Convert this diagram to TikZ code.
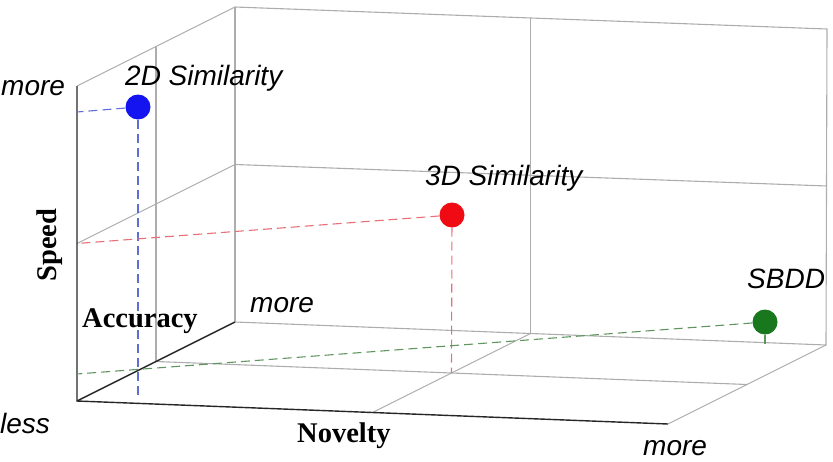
\documentclass[tikz,border=0pt]{standalone}
\usepackage{fontspec}
\setmainfont{Liberation Serif}
\setsansfont{Liberation Sans}
\definecolor{gblue}{RGB}{95,110,215}
\definecolor{gred}{RGB}{232,110,120}
\definecolor{ggreen}{RGB}{95,150,95}
\definecolor{dblue}{RGB}{20,20,240}
\definecolor{dred}{RGB}{240,10,20}
\definecolor{dgreen}{RGB}{25,120,30}
\begin{document}
\begin{tikzpicture}[x=1pt,y=-1pt,
  gridline/.style={draw=black!32, line width=1.1pt},
  axisline/.style={draw=black!85, line width=1.4pt},
  dot/.style={circle, inner sep=0pt, minimum size=25pt},
  lab/.style={font=\sffamily\itshape\fontsize{28}{31}\selectfont, inner sep=0pt, anchor=base west},
  axtitle/.style={font=\rmfamily\bfseries\fontsize{28.5}{31}\selectfont, inner sep=0pt},
  guide/.style={dash pattern=on 9pt off 5pt, line width=1.1pt}]
\useasboundingbox (0,0) rectangle (833,461);
% box corners
\coordinate (O) at (77,401);
\coordinate (Nf) at (668,424);
\coordinate (Af) at (235,322);
\coordinate (Br) at (826,345);
\coordinate (Tl) at (77,86);
\coordinate (Tbl) at (235,7);
\coordinate (Tbr) at (827,29);
% grid midpoints
\coordinate (BmL) at (235,164.5);
\coordinate (BmR) at (827,186);
\coordinate (BvT) at (530.5,18);
\coordinate (BvB) at (530.5,333.5);
\coordinate (LvT) at (156,46.5);
\coordinate (LvB) at (156,361.5);
\coordinate (LhF) at (77,243.5);
\coordinate (FnR) at (747,384.5);
\coordinate (FaF) at (372.5,412.5);
\coordinate (FC) at (451.5,373);
% guide ends
\coordinate (bL) at (77,112);
\coordinate (bD) at (138,397);
\coordinate (gL) at (77,374);
\coordinate (gD) at (765,348);
% gray grid
\draw[gridline] (Tl) -- (Tbl) -- (Tbr) -- (Br) -- (Af);
\draw[gridline] (Tbl) -- (Af);
\draw[gridline] (Nf) -- (Br);
\draw[gridline] (BmL) -- (BmR);
\draw[gridline] (BvT) -- (BvB);
\draw[gridline] (LvT) -- (LvB);
\draw[gridline] (LhF) -- (BmL);
\draw[gridline] (LvB) -- (FnR);
\draw[gridline] (FaF) -- (BvB);
% axes
\draw[axisline] (Tl) -- (O) -- (Nf);
\draw[axisline] (O) -- (Af);
% dots
\node[dot, fill=dblue] (d2) at (138,107) {};
\node[dot, fill=dred] (d3) at (452,215) {};
\node[dot, fill=dgreen] (ds) at (765,322) {};
% guides
\draw[guide, draw=gblue] (d2) -- (bL);
\draw[guide, draw=gblue] (d2) -- (bD);
\draw[guide, draw=gred] (d3) -- (LhF);
\draw[guide, draw=gred] (d3) -- (FC);
\draw[guide, draw=ggreen] (ds) -- (gL);
\draw[guide, draw=ggreen] (ds) -- (gD);
% labels
\node[lab] (m1) at (1,95) {more};
\node[lab] (l2) at (125,85) {2D Similarity};
\node[lab] (l3) at (425,185) {3D Similarity};
\node[lab] (ls) at (747,288) {SBDD};
\node[lab] (m2) at (250,312) {more};
\node[lab] (le) at (0,433) {less};
\node[lab] (m3) at (643,455) {more};
\node[axtitle, anchor=base west] (ta) at (82,327) {Accuracy};
\node[axtitle, anchor=base west] (tn) at (297,442) {Novelty};
\node[axtitle, rotate=90] (tsp) at (50,245) {Speed};
\end{tikzpicture}
\end{document}
